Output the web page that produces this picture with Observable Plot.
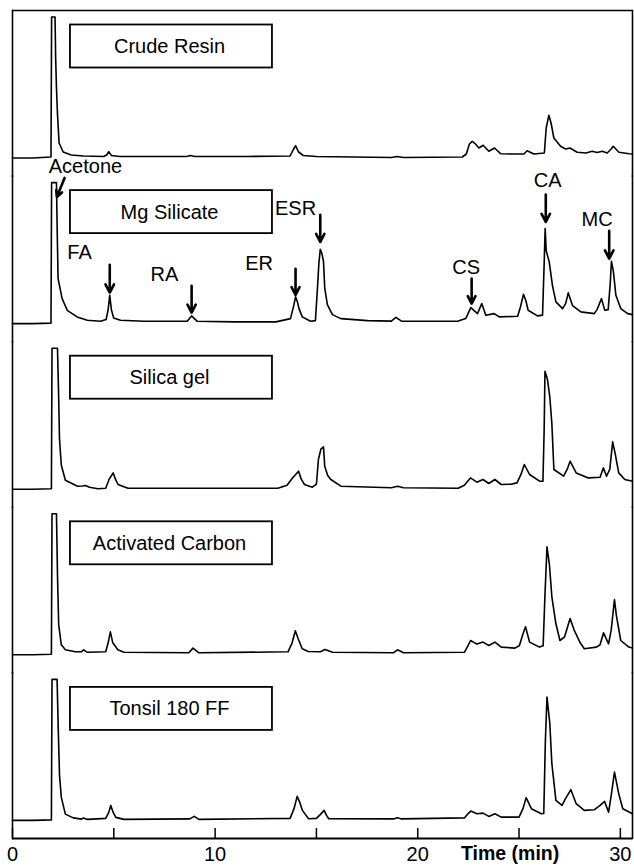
<!DOCTYPE html>
<html><head><meta charset="utf-8">
<script src="https://cdn.jsdelivr.net/npm/d3@7"></script>
<script src="https://cdn.jsdelivr.net/npm/@observablehq/plot@0.6"></script>
<style>body{margin:0;background:#fff}</style>
</head><body><div id="chart"></div>
<script>
// Panels (adsorbents), top to bottom
const panels = ["Crude Resin", "Mg Silicate", "Silica gel", "Activated Carbon", "Tonsil 180 FF"];

// Chromatogram traces: [time (min), detector response (a.u.; 141 = full scale)]
const crudeResin = [[0,0],[1.0,0],[1.90,1],[1.93,141],[2.10,141],[2.13,100],[2.17,70],[2.22,44],[2.30,15],[2.50,6],[2.90,3],[3.50,2],[4.50,1.5],[4.65,3],[4.75,6.3],[4.88,2.5],[5.3,1.5],[7.0,1.5],[8.6,1.5],[8.79,2.5],[9.0,1.5],[11.5,1.5],[13.7,2],[13.85,8],[13.97,12.3],[14.12,6],[14.35,2.5],[15,1.5],[18.7,0.5],[18.99,1.5],[19.3,0.5],[22.2,1],[22.40,4],[22.55,14],[22.69,16.7],[22.85,14],[23.02,10],[23.23,12.7],[23.51,6.7],[23.79,10],[24.09,4.3],[24.6,4],[25.24,4],[25.40,7.3],[25.73,4],[26.25,5],[26.34,30],[26.47,42.7],[26.58,35],[26.72,20],[27.05,11.7],[27.30,9],[27.51,10],[27.87,5.7],[28.3,5],[28.61,6.7],[28.85,5.5],[29.11,6.7],[29.35,5],[29.55,9],[29.65,11.7],[29.93,5.7],[30.43,4.3],[30.6,4]];
const mgSilicate = [[0,0],[1.0,0],[1.90,0.5],[1.93,141],[2.17,141],[2.20,100],[2.25,45],[2.45,25],[2.70,13.3],[3.19,6.7],[3.69,3.3],[4.34,2.3],[4.62,4],[4.72,14],[4.80,28.3],[4.88,14],[4.99,5.7],[5.33,3.3],[6.5,2.3],[8.62,2.3],[8.84,7.7],[9.12,2.3],[10.93,1.7],[13.0,1.7],[13.72,5],[13.88,18],[13.97,26.7],[14.06,22],[14.14,15],[14.30,6.7],[14.71,2.3],[14.95,3],[15.05,35],[15.12,60],[15.19,74.3],[15.27,70],[15.35,62],[15.41,35.7],[15.54,19],[15.79,9],[16.20,5],[17.52,3],[18.7,2.5],[18.92,6.3],[19.2,2.5],[20.0,2.3],[22.0,2.5],[22.37,5],[22.62,16],[22.95,10],[23.16,20],[23.36,8.3],[23.77,10],[24.02,6.7],[24.93,7.3],[25.05,15],[25.22,29.3],[25.35,22],[25.45,13.3],[25.91,7.7],[26.16,8.5],[26.24,60],[26.29,95],[26.34,73],[26.49,61.7],[26.65,38],[26.82,21.7],[27.15,15],[27.30,20],[27.43,30.7],[27.64,18],[28.05,11.7],[28.71,10],[28.85,14],[29.07,25],[29.23,13.3],[29.40,14],[29.50,40],[29.56,62.3],[29.66,51.7],[29.78,28.3],[30.02,15],[30.36,10],[30.6,9]];
const silicaGel = [[0,0],[1.0,0],[1.92,0.5],[1.95,141],[2.22,141],[2.27,100],[2.32,50],[2.41,24],[2.61,9],[3.21,3],[3.45,3.2],[3.60,3.7],[3.80,2],[4.21,0.5],[4.6,1],[4.77,10],[4.97,16.3],[5.08,10],[5.21,4.7],[5.7,1],[9.0,1],[13.1,1],[13.55,4],[13.81,11],[14.12,18],[14.25,10],[14.41,4.7],[14.8,2],[15.0,5],[15.1,30],[15.22,40],[15.35,42.3],[15.41,23],[15.55,14],[15.71,9.7],[16.21,3],[18.7,1.5],[19.0,3],[19.3,1.5],[22.0,1],[22.3,4],[22.6,11.3],[22.92,7],[23.22,9.7],[23.51,5.7],[23.81,9.7],[24.12,4.7],[24.6,5],[24.9,6.3],[25.10,15],[25.26,24.7],[25.52,14.7],[26.01,8],[26.18,8],[26.24,60],[26.28,118],[26.40,110],[26.52,92],[26.62,65.7],[26.72,19.7],[27.2,13],[27.38,20],[27.52,28],[27.82,16.3],[28.42,11.3],[29.0,12],[29.16,21.3],[29.32,13],[29.48,20],[29.62,47.3],[29.75,35],[29.92,16.3],[30.22,9.7],[30.6,8]];
const activatedCarbon = [[0,0],[1.0,0],[1.92,0.5],[1.95,141],[2.17,141],[2.22,80],[2.28,30],[2.41,10],[2.61,5],[3.1,3],[3.41,3],[3.51,5],[3.70,2.5],[4.6,3],[4.72,12],[4.83,23],[4.95,12],[5.2,5],[5.5,2.5],[8.7,2],[8.91,6.7],[9.2,2],[13.6,3],[13.80,12],[13.96,24],[14.10,16],[14.3,6],[14.6,3.3],[15.2,3],[15.42,5.3],[15.8,2.5],[18.8,2],[19.0,5],[19.3,2],[22.3,2.5],[22.45,8],[22.61,14.3],[22.92,10.7],[23.22,12.7],[23.51,9.3],[23.81,12.7],[24.12,7.7],[24.8,6.7],[25.02,9.3],[25.18,20],[25.32,28],[25.52,12.7],[26.01,7.7],[26.19,9],[26.28,60],[26.38,108],[26.50,90],[26.62,58],[26.82,31],[27.02,14.3],[27.25,18],[27.52,36.3],[27.72,24.7],[28.02,12],[28.22,6],[28.82,7.7],[29.0,10],[29.17,22],[29.42,11],[29.55,25],[29.71,55.3],[29.80,40],[30.02,14.3],[30.42,7.7],[30.6,6.7]];
const tonsil180FF = [[0,0],[1.0,0],[1.92,0.5],[1.95,141],[2.20,141],[2.26,90],[2.32,45],[2.41,23],[2.61,6.3],[3.0,2.5],[3.41,1.3],[3.5,2.5],[3.7,1],[4.6,2],[4.75,8],[4.85,15],[4.97,8],[5.10,3],[5.5,1],[8.75,1.5],[8.97,4],[9.2,1],[13.7,2],[13.90,12],[14.05,24],[14.18,18],[14.31,10],[14.61,1.7],[15.0,2],[15.2,6],[15.38,10],[15.5,5],[15.61,1.7],[18.8,1.5],[19.0,2.7],[19.2,1.5],[22.3,2.5],[22.45,6],[22.62,9.3],[22.92,6.7],[23.22,7.3],[23.51,4],[23.81,6.7],[24.12,3.3],[25.0,3.3],[25.2,12],[25.35,22.7],[25.61,11.7],[26.1,6.7],[26.22,7],[26.30,80],[26.38,123.3],[26.52,96.7],[26.62,56.7],[26.82,20],[27.12,15],[27.30,22],[27.56,30.7],[27.82,16.7],[28.22,10],[28.72,10.7],[29.0,15],[29.22,19],[29.42,8.3],[29.55,25],[29.71,48.3],[29.92,26.7],[30.12,11.7],[30.6,6.7]];
const traces = [crudeResin, mgSilicate, silicaGel, activatedCarbon, tonsil180FF];

// Identified peaks (Mg Silicate panel)
const peakNames = ["Acetone", "FA", "RA", "ER", "ESR", "CS", "CA", "MC"];
const peakTimes = [2.19, 4.80, 8.84, 13.97, 15.19, 22.66, 26.32, 29.45];

// Axis ticks
const tickValues = [0, 5, 10, 15, 20, 25, 30];
const tickLabels = [0, 10, 20, 30];
const xLabel = "Time (min)";

// ---- layout (annotation placement, in data units) ----
const yDomain = [-18.1, 147.5];
const arrowTailT = [2.57, 4.80, 8.84, 13.97, 15.19, 22.66, 26.32, 29.45];
const arrowTip   = [126.7, 31, 11, 28.7, 81.7, 20, 101.7, 65];
const arrowTail  = [145.7, 58.7, 37.7, 54.7, 108.7, 45, 129, 92.7];
const labelT     = [3.60, 3.31, 7.50, 12.17, 13.97, 22.39, 26.41, 28.85];
const labelY     = [156.7, 71, 49, 60, 115, 55.7, 143.4, 104.4];

const rows = traces.flatMap((tr, i) => tr.map(([t, v]) => ({panel: panels[i], t, v})));
const peaks = peakNames.map((name, i) => ({
  name, t: peakTimes[i], t0: arrowTailT[i], tip: arrowTip[i], tail: arrowTail[i], lx: labelT[i], ly: labelY[i]
}));
const mgPanel = () => panels[1];

const chart = Plot.plot({
  width: 634,
  height: 866,
  marginTop: 10,
  marginBottom: 28,
  marginLeft: 12,
  marginRight: 2,
  style: {fontFamily: "'Liberation Sans', Arial, sans-serif", fontSize: "20px", background: "white", color: "black"},
  x: {domain: [0, 30.6], label: null},
  y: {domain: yDomain, axis: null},
  fy: {domain: panels, padding: 0, round: false, axis: null},
  marks: [
    Plot.frame({anchor: "left", strokeWidth: 1.6}),
    Plot.frame({anchor: "right", strokeWidth: 1.6}),
    Plot.ruleY([panels[0]], {fy: d => d, y: yDomain[1], strokeWidth: 1.6}),
    Plot.ruleY([panels[panels.length - 1]], {fy: d => d, y: yDomain[0], strokeWidth: 1.8}),
    Plot.lineY(rows, {x: "t", y: "v", fy: "panel", stroke: "black", strokeWidth: 1.6, strokeLinejoin: "round"}),
    Plot.rect(panels, {fy: d => d, x1: 2.86, x2: 12.83, y1: 90, y2: 133, fill: "white", stroke: "black", strokeWidth: 1.8}),
    Plot.text(panels, {fy: d => d, x: 7.75, y: 111.5, text: d => d, fontSize: 20, fill: "black"}),
    Plot.arrow(peaks, {fy: mgPanel, x1: "t0", x2: "t", y1: "tail", y2: "tip", stroke: "black", strokeWidth: 2.6, headLength: 9, headAngle: 55}),
    Plot.text(peaks, {fy: mgPanel, x: "lx", y: "ly", text: "name", fontSize: 20, fill: "black"}),
    Plot.axisX({ticks: tickValues, tickSize: -10, tickFormat: () => "", strokeWidth: 1.5, label: null}),
    Plot.axisX({ticks: tickLabels, tickSize: 0, tickPadding: 8, fontSize: 20, label: null}),
    Plot.text([xLabel], {fy: () => panels[panels.length - 1], x: 24.56, y: yDomain[0], dy: 8, lineAnchor: "top", text: d => d, fontSize: 19.5, fontWeight: "bold", fill: "black"})
  ]
});
document.getElementById("chart").append(chart);
</script></body></html>
